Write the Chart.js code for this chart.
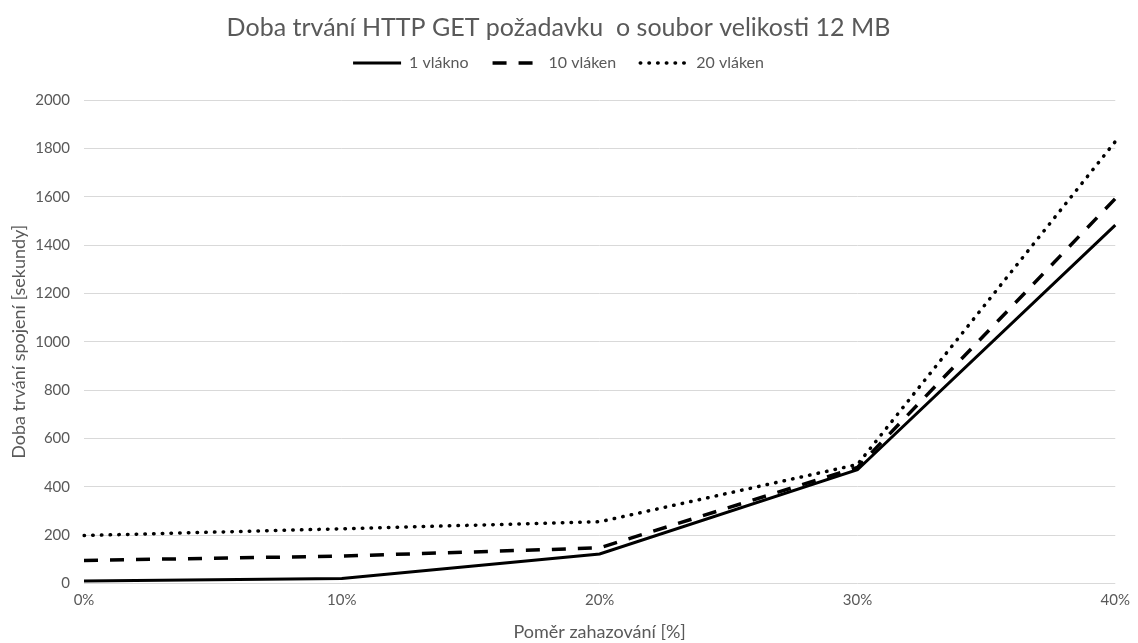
<!DOCTYPE html>
<html>
<head>
<meta charset="utf-8">
<script src="https://cdn.jsdelivr.net/npm/chart.js@4/dist/chart.umd.min.js"></script>
<style>
  html, body { margin: 0; padding: 0; background: #fff; }
  #wrap { width: 1138px; height: 643px; }
</style>
</head>
<body>
<div id="wrap"><canvas id="chart"></canvas></div>
<script>
const categories = ['0%', '10%', '20%', '30%', '40%'];
const seriesNames = ['1 vlákno', '10 vláken', '20 vláken'];
const oneThread = [10, 20, 122, 470, 1482];
const tenThreads = [95, 113, 147, 480, 1592];
const twentyThreads = [198, 226, 255, 492, 1828];

const textGrey = '#595959';
const fontFamily = 'Lato, "Open Sans", sans-serif';

// extra room under the legend, like the reference
const legendGap = {
    id: 'legendGap',
    beforeInit(chart) {
        const fit = chart.legend.fit;
        chart.legend.fit = function() {
            fit.call(this);
            this.height += 19;
        };
    }
};

new Chart(document.getElementById('chart').getContext('2d'), {
    type: 'line',
    data: {
        labels: categories,
        datasets: [
            {
                label: seriesNames[0],
                data: oneThread,
                borderColor: '#000',
                borderWidth: 3,
                pointRadius: 0,
                pointStyle: 'line',
                tension: 0
            },
            {
                label: seriesNames[1],
                data: tenThreads,
                borderColor: '#000',
                borderWidth: 3.5,
                borderDash: [14, 12],
                pointRadius: 0,
                pointStyle: 'line',
                tension: 0
            },
            {
                label: seriesNames[2],
                data: twentyThreads,
                borderColor: '#000',
                borderWidth: 3.5,
                borderDash: [0.5, 8.2],
                borderCapStyle: 'round',
                pointRadius: 0,
                pointStyle: 'line',
                tension: 0
            }
        ]
    },
    plugins: [legendGap],
    options: {
        responsive: true,
        maintainAspectRatio: false,
        animation: false,
        layout: { padding: { left: 0, right: 21, top: 0, bottom: 0 } },
        plugins: {
            title: {
                display: true,
                text: 'Doba trvání HTTP GET požadavku  o soubor velikosti 12 MB',
                color: textGrey,
                font: { family: fontFamily, size: 25, weight: 'normal' },
                padding: { top: 13, bottom: -12 }
            },
            legend: {
                position: 'top',
                labels: {
                    usePointStyle: true,
                    pointStyleWidth: 48,
                    boxHeight: 12,
                    color: textGrey,
                    font: { family: fontFamily, size: 16 },
                    padding: 24,
                    generateLabels: function(chart) {
                        const items = Chart.defaults.plugins.legend.labels.generateLabels(chart);
                        items.forEach(function(item) {
                            const ds = chart.data.datasets[item.datasetIndex];
                            item.lineDash = ds.borderDash || [];
                            item.lineCap = ds.borderCapStyle || 'butt';
                            item.lineWidth = ds.borderWidth;
                        });
                        return items;
                    }
                }
            },
            tooltip: { enabled: false }
        },
        scales: {
            x: {
                offset: false,
                grid: { display: false, drawTicks: false },
                border: { display: false },
                ticks: {
                    color: textGrey,
                    font: { family: fontFamily, size: 15 },
                    maxRotation: 0,
                    padding: 8
                },
                title: {
                    display: true,
                    text: 'Poměr zahazování [%]',
                    color: textGrey,
                    font: { family: fontFamily, size: 18 },
                    padding: { top: 4, bottom: 0 }
                }
            },
            y: {
                min: 0,
                max: 2000,
                ticks: {
                    stepSize: 200,
                    color: textGrey,
                    font: { family: fontFamily, size: 15 },
                    padding: 14,
                    callback: function(v) { return String(v); }
                },
                grid: { color: '#d9d9d9', lineWidth: 1, drawTicks: false },
                border: { display: false },
                title: {
                    display: true,
                    text: 'Doba trvání spojení [sekundy]',
                    color: textGrey,
                    font: { family: fontFamily, size: 18 },
                    padding: { top: 8, bottom: 4 }
                },
                afterFit: function(scale) { scale.width = 84; }
            }
        }
    }
});
</script>
</body>
</html>
